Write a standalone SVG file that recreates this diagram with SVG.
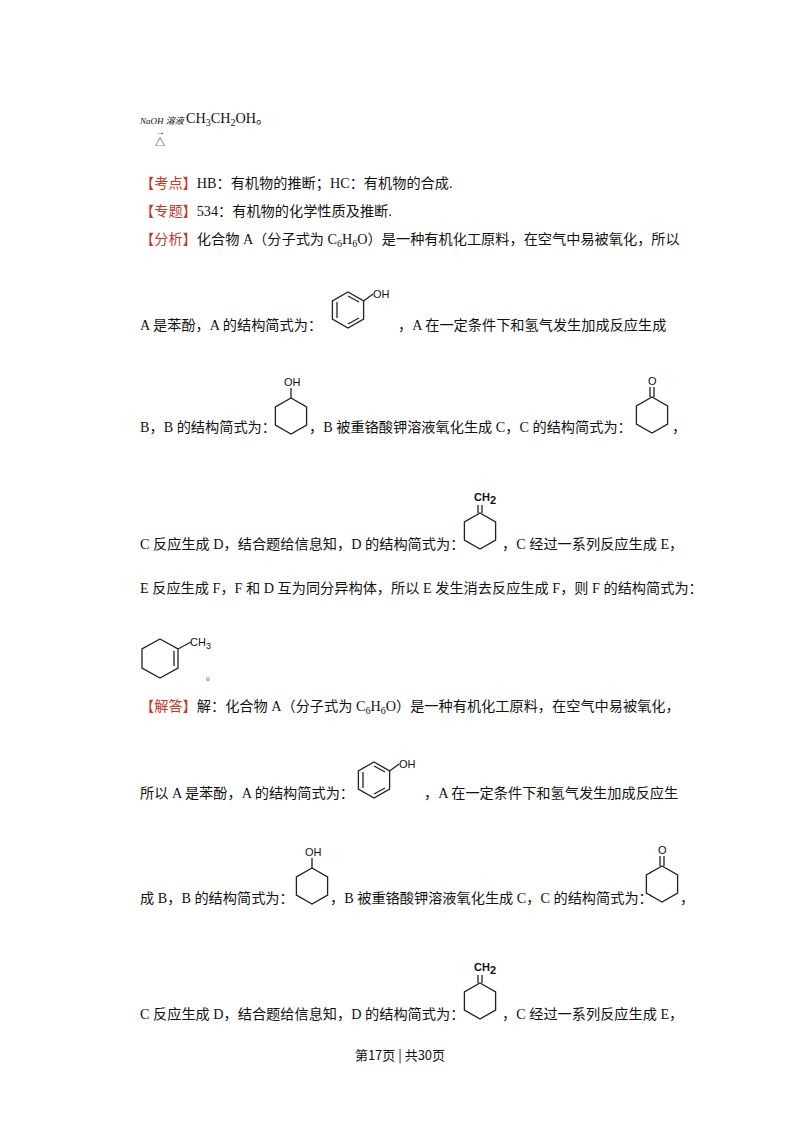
<svg xmlns="http://www.w3.org/2000/svg" width="800" height="1132" viewBox="0 0 800 1132">
<style>
text{font-family:"Liberation Serif","Noto Sans CJK SC",serif;font-size:14.2px;fill:#111}
.b{fill:#c0392b}
.m{fill:none;stroke:#222;stroke-width:1.3}
.s{font-family:"Liberation Sans",sans-serif;font-size:11px}
</style>
<defs>
<polygon id="ring" class="m" points="0,-18 15.6,-9 15.6,9 0,18 -15.6,9 -15.6,-9"/>
</defs>
<rect width="800" height="1132" fill="#fff"/>
<text x="140" y="124" style="font-size:9px;font-style:italic">NaOH 溶液</text>
<text x="186" y="123">CH<tspan font-size="10" dy="3">3</tspan><tspan dy="-3">CH</tspan><tspan font-size="10" dy="3">2</tspan><tspan dy="-3">OH。</tspan></text>
<text x="155" y="135" style="font-size:10px">→</text>
<text x="155" y="146" style="font-size:10px">△</text>
<text x="140" y="188"><tspan class="b">【考点】</tspan>HB：有机物的推断；HC：有机物的合成.</text>
<text x="140" y="216"><tspan class="b">【专题】</tspan>534：有机物的化学性质及推断.</text>
<text x="140" y="244"><tspan class="b">【分析】</tspan>化合物 A（分子式为 C<tspan font-size="10" dy="3">6</tspan><tspan dy="-3">H</tspan><tspan font-size="10" dy="3">6</tspan><tspan dy="-3">O）是一种有机化工原料，在空气中易被氧化，所以</tspan></text>
<g id="phenolA"><use href="#ring" x="348" y="310"/><path class="m" d="M337,302 L337,318 M348,324 L359,318 M348,296 L359,302 M363.6,301 L373,294"/><text class="s" x="373" y="298">OH</text></g>
<text x="140" y="330">A 是苯酚，A 的结构简式为：</text>
<text x="398" y="330">，A 在一定条件下和氢气发生加成反应生成</text>
<g id="ringB"><use href="#ring" x="291" y="416"/><path class="m" d="M291,398 L291,388"/><text class="s" x="284" y="386">OH</text></g>
<text x="140" y="432">B，B 的结构简式为：</text><text x="309" y="432">，B 被重铬酸钾溶液氧化生成 C，C 的结构简式为：</text><text x="672" y="432">，</text>
<g id="ringC"><use href="#ring" x="652" y="415"/><path class="m" d="M650,397 L650,387 M654,397 L654,387"/><text class="s" x="648" y="385">O</text></g>
<g id="ringD"><use href="#ring" x="480" y="531"/><path class="m" d="M478,513 L478,505 M482,513 L482,505"/><text class="s" x="474" y="501" style="font-weight:bold">CH<tspan dy="3">2</tspan></text></g>
<text x="140" y="549">C 反应生成 D，结合题给信息知，D 的结构简式为：</text><text x="502" y="549">，C 经过一系列反应生成 E，</text>
<text x="140" y="593">E 反应生成 F，F 和 D 互为同分异构体，所以 E 发生消去反应生成 F，则 F 的结构简式为：</text>
<g id="ringF"><polygon class="m" points="160,639 178,649 178,668 160,678 142,668 142,649"/><path class="m" d="M174,651 L174,666 M178,649 L191,642"/><text class="s" x="190" y="646">CH<tspan font-size="9" dy="3">3</tspan></text></g>
<text x="206" y="680" style="font-size:10px">。</text>
<text x="140" y="711"><tspan class="b">【解答】</tspan>解：化合物 A（分子式为 C<tspan font-size="10" dy="3">6</tspan><tspan dy="-3">H</tspan><tspan font-size="10" dy="3">6</tspan><tspan dy="-3">O）是一种有机化工原料，在空气中易被氧化，</tspan></text>
<g id="phenolA2"><use href="#ring" x="374" y="780"/><path class="m" d="M363,772 L363,788 M374,794 L385,788 M374,766 L385,772 M389.6,771 L399,764"/><text class="s" x="399" y="768">OH</text></g>
<text x="140" y="798">所以 A 是苯酚，A 的结构简式为：</text><text x="424" y="798">，A 在一定条件下和氢气发生加成反应生</text>
<g id="ringB2"><use href="#ring" x="312" y="886"/><path class="m" d="M312,868 L312,858"/><text class="s" x="305" y="856">OH</text></g>
<text x="140" y="903">成 B，B 的结构简式为：</text><text x="330" y="903">，B 被重铬酸钾溶液氧化生成 C，C 的结构简式为：</text><text x="680" y="903">，</text>
<g id="ringC2"><use href="#ring" x="662" y="884"/><path class="m" d="M660,866 L660,856 M664,866 L664,856"/><text class="s" x="658" y="854">O</text></g>
<g id="ringD2"><use href="#ring" x="480" y="1001"/><path class="m" d="M478,983 L478,975 M482,983 L482,975"/><text class="s" x="474" y="971" style="font-weight:bold">CH<tspan dy="3">2</tspan></text></g>
<text x="140" y="1019">C 反应生成 D，结合题给信息知，D 的结构简式为：</text><text x="502" y="1019">，C 经过一系列反应生成 E，</text>
<text x="400" y="1060" text-anchor="middle" style="font-family:'Noto Sans CJK SC',sans-serif;font-size:13px">第17页 | 共30页</text>
</svg>
